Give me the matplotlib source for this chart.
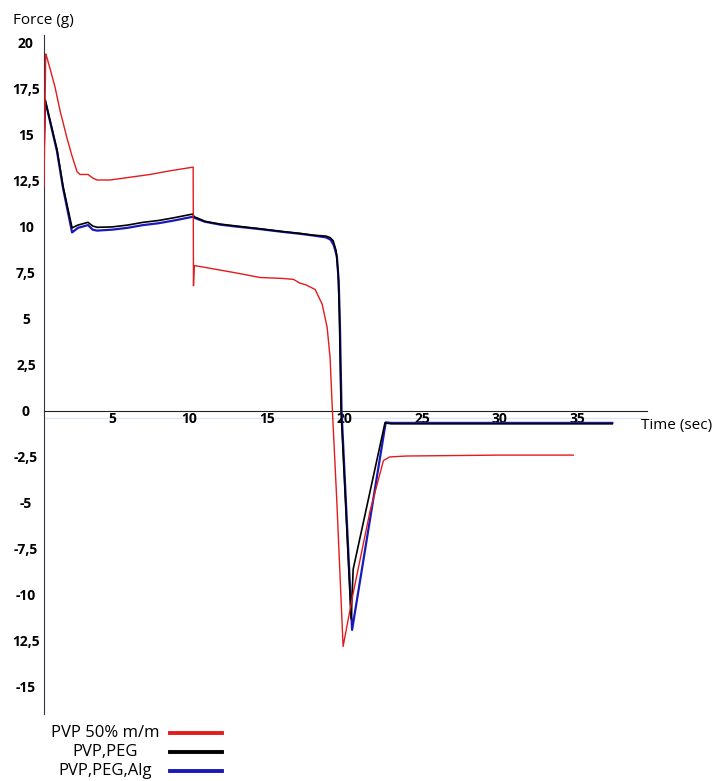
import numpy as np
import matplotlib
matplotlib.use("Agg")
import matplotlib.pyplot as plt
from matplotlib.lines import Line2D

# series (time in s, force in g)
t_red = [0.61, 0.72, 0.8, 1.0, 1.32, 1.65, 2.1, 2.42, 2.74, 2.94, 3.45, 3.77, 4.03, 4.87,
         6.16, 7.45, 8.74, 10.23, 10.25, 10.3, 11, 12, 13, 14.55, 16, 16.7, 17.1, 17.5,
         18.1, 18.55, 18.87, 19.06, 19.2, 19.5, 19.9, 20.55, 21.65, 22.5, 22.9, 24, 30, 34.74]
f_red = [12.2, 19.4, 19.2, 18.6, 17.6, 16.3, 14.8, 13.85, 13.0, 12.85, 12.85, 12.65, 12.55, 12.55,
         12.7, 12.85, 13.05, 13.25, 6.8, 7.9, 7.8, 7.65, 7.5, 7.25, 7.2, 7.15, 6.95, 6.85,
         6.6, 5.8, 4.55, 2.9, 0.2, -5.0, -12.8, -9.9, -5.4, -2.7, -2.5, -2.45, -2.4, -2.4]

t_blk = [0.61, 0.68, 1.45, 1.84, 2.42, 2.8, 3.45, 3.75, 4.03, 5, 6, 7, 8, 9, 10.2, 10.3,
         10.6, 11, 12, 13, 14.55, 16, 17.1, 18, 18.8, 19.06, 19.26, 19.45, 19.58, 19.66,
         19.77, 20.42, 20.55, 22.6, 23, 30, 37.26]
f_blk = [14.8, 16.9, 14.2, 12.2, 9.95, 10.1, 10.25, 10.05, 9.98, 10.0, 10.1, 10.25, 10.35,
         10.5, 10.7, 10.55, 10.45, 10.3, 10.15, 10.05, 9.9, 9.75, 9.65, 9.55, 9.5, 9.42,
         9.25, 8.7, 7.5, 5.3, 0.0, -11.3, -8.6, -0.65, -0.7, -0.7, -0.7]

t_blu = [0.61, 0.68, 1.45, 1.84, 2.42, 2.8, 3.45, 3.75, 4.03, 5, 6, 7, 8, 9, 10.2, 10.3,
         10.6, 11, 12, 13, 14.55, 16, 17.1, 18, 18.8, 19.1, 19.3, 19.5, 19.62, 19.7,
         19.8, 20.48, 22.65, 23, 30, 37.26]
f_blu = [14.5, 16.9, 14.1, 12.1, 9.7, 9.95, 10.1, 9.85, 9.8, 9.85, 9.95, 10.1, 10.2, 10.35,
         10.55, 10.5, 10.4, 10.28, 10.12, 10.02, 9.88, 9.73, 9.63, 9.53, 9.43, 9.3,
         9.0, 8.4, 7.0, 4.5, 0.0, -11.9, -0.62, -0.65, -0.65, -0.65]

labels = ["PVP 50% m/m", "PVP,PEG", "PVP,PEG,Alg"]
colors = ["#e21b1b", "#000000", "#1a1ab8"]

yticks = [20, 17.5, 15, 12.5, 10, 7.5, 5, 2.5, 0, -2.5, -5, -7.5, -10, -12.5, -15]
ytick_labels = ["20", "17,5", "15", "12,5", "10", "7,5", "5", "2,5", "0",
                "-2,5", "-5", "-7,5", "-10", "12,5", "-15"]
xticks = [5, 10, 15, 20, 25, 30, 35]

plt.rcParams['font.family'] = ['Open Sans', 'DejaVu Sans']

fig = plt.figure(figsize=(7.15, 7.81), dpi=100)
ax = fig.add_axes([44/715, 1-714/781, (647-44)/715, (714-35)/781])

ax.axhline(-0.38, color="#dfe6f7", lw=1, zorder=0)
ax.plot(t_red, f_red, color=colors[0], lw=1.0, zorder=3)
ax.plot(t_blu, f_blu, color=colors[2], lw=1.6, zorder=2)
ax.plot(t_blk, f_blk, color=colors[1], lw=1.2, zorder=2.5)

ax.set_xlim(0.61, 39.5)
ax.set_ylim(-16.47, 20.43)

for s in ['top', 'right']:
    ax.spines[s].set_visible(False)
ax.spines['bottom'].set_position(('data', 0))
ax.spines['bottom'].set_color('#222222')
ax.spines['left'].set_color('#33334a')

ax.set_xticks(xticks)
ax.set_xticklabels([str(x) for x in xticks], fontweight='bold', fontsize=10)
ax.tick_params(axis='x', length=0, pad=1)
ax.set_yticks(yticks)
ax.set_yticklabels(ytick_labels, fontweight='bold', fontsize=10, ha='center')
ax.tick_params(axis='y', length=0, pad=13)

fig.text(13/715, 1-21/781, "Force (g)", fontsize=11, va='center', ha='left')
fig.text(641/715, 1-426/781, "Time (sec)", fontsize=11, va='center', ha='left')

# legend drawn by hand below the plot
for i, (lab, c) in enumerate(zip(labels, colors)):
    yy = 1 - (733 + 19*i)/781
    fig.text(105/715, yy, lab, fontsize=12, va='center', ha='center')
    fig.add_artist(Line2D([170/715, 222/715], [yy, yy], color=c, lw=2.8,
                          transform=fig.transFigure))

plt.savefig("out.png", dpi=100)
